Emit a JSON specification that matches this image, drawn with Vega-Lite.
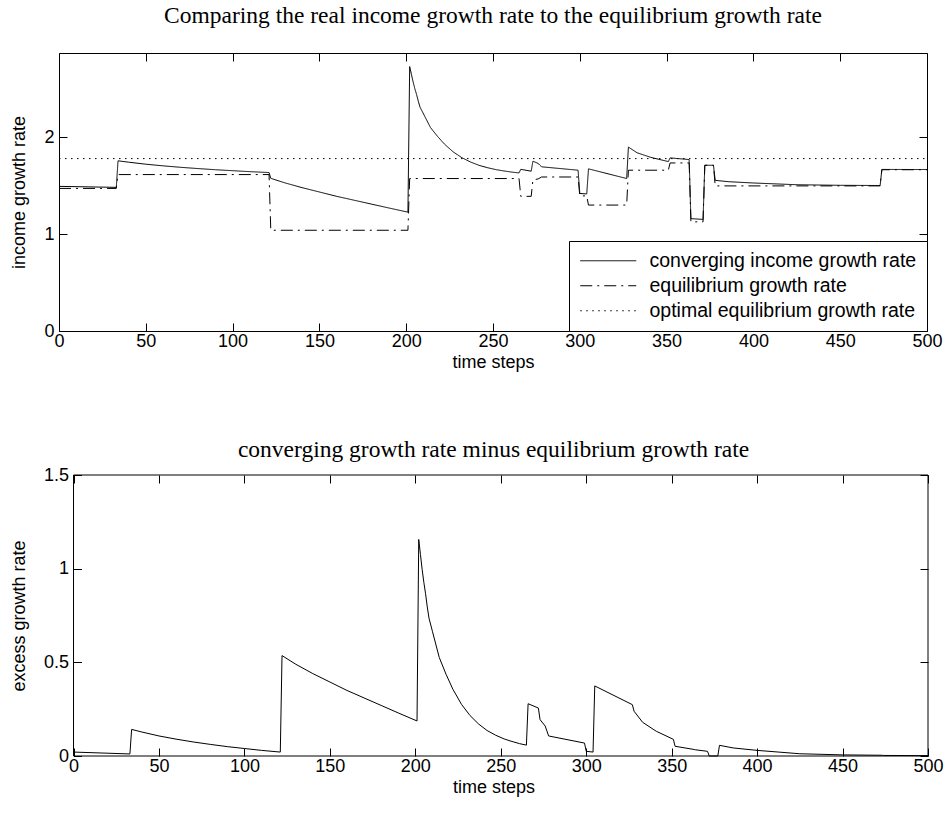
{
  "$schema": "https://vega.github.io/schema/vega-lite/v6.json",
  "padding": {"left": 10, "top": 4, "right": 5, "bottom": 5},
  "spacing": 66,
  "columns": 1,
  "align": "none",
  "config": {
    "view": {"stroke": null},
    "font": "Liberation Sans",
    "axis": {
      "labelFont": "Liberation Sans", "labelFontSize": 18, "labelColor": "black",
      "titleFont": "Liberation Sans", "titleFontSize": 18, "titleFontWeight": "normal", "titleColor": "black",
      "domain": true, "domainColor": "black", "domainWidth": 1, "grid": false, "tickColor": "black", "tickSize": -8, "tickWidth": 1
    },
    "axisX": {"labelPadding": 9, "titlePadding": 3, "labelFlush": false},
    "axisY": {"labelPadding": 13, "titlePadding": 15},
    "title": {"font": "Liberation Serif", "fontSize": 23.5, "fontWeight": "normal", "color": "black", "anchor": "middle", "frame": "group"},
    "legend": {
      "orient": "bottom-right", "offset": 0, "padding": 10, "strokeColor": "black", "fillColor": "white",
      "labelFont": "Liberation Sans", "labelFontSize": 19.5, "labelColor": "black", "labelLimit": 0,
      "symbolType": "M-1,0H5.59", "symbolSize": 289, "symbolStrokeColor": "black", "symbolStrokeWidth": 1,
      "labelOffset": 51, "rowPadding": 4, "cornerRadius": 0
    }
  },
  "resolve": {"legend": {"strokeDash": "independent"}},
  "datasets": {
    "top": [
      {"t": 0, "v": 1.493, "series": "converging income growth rate"},
      {"t": 33, "v": 1.483, "series": "converging income growth rate"},
      {"t": 34, "v": 1.757, "series": "converging income growth rate"},
      {"t": 40, "v": 1.743, "series": "converging income growth rate"},
      {"t": 50, "v": 1.722, "series": "converging income growth rate"},
      {"t": 60, "v": 1.705, "series": "converging income growth rate"},
      {"t": 70, "v": 1.69, "series": "converging income growth rate"},
      {"t": 80, "v": 1.677, "series": "converging income growth rate"},
      {"t": 90, "v": 1.665, "series": "converging income growth rate"},
      {"t": 100, "v": 1.655, "series": "converging income growth rate"},
      {"t": 110, "v": 1.645, "series": "converging income growth rate"},
      {"t": 121, "v": 1.636, "series": "converging income growth rate"},
      {"t": 122, "v": 1.576, "series": "converging income growth rate"},
      {"t": 130, "v": 1.53, "series": "converging income growth rate"},
      {"t": 140, "v": 1.48, "series": "converging income growth rate"},
      {"t": 150, "v": 1.435, "series": "converging income growth rate"},
      {"t": 160, "v": 1.39, "series": "converging income growth rate"},
      {"t": 170, "v": 1.35, "series": "converging income growth rate"},
      {"t": 180, "v": 1.31, "series": "converging income growth rate"},
      {"t": 190, "v": 1.27, "series": "converging income growth rate"},
      {"t": 201, "v": 1.227, "series": "converging income growth rate"},
      {"t": 202, "v": 2.73, "series": "converging income growth rate"},
      {"t": 203, "v": 2.65, "series": "converging income growth rate"},
      {"t": 204, "v": 2.57, "series": "converging income growth rate"},
      {"t": 205, "v": 2.5, "series": "converging income growth rate"},
      {"t": 206, "v": 2.44, "series": "converging income growth rate"},
      {"t": 207, "v": 2.37, "series": "converging income growth rate"},
      {"t": 208, "v": 2.31, "series": "converging income growth rate"},
      {"t": 210, "v": 2.24, "series": "converging income growth rate"},
      {"t": 214, "v": 2.1, "series": "converging income growth rate"},
      {"t": 218, "v": 2.01, "series": "converging income growth rate"},
      {"t": 222, "v": 1.93, "series": "converging income growth rate"},
      {"t": 227, "v": 1.85, "series": "converging income growth rate"},
      {"t": 232, "v": 1.79, "series": "converging income growth rate"},
      {"t": 237, "v": 1.745, "series": "converging income growth rate"},
      {"t": 242, "v": 1.71, "series": "converging income growth rate"},
      {"t": 247, "v": 1.685, "series": "converging income growth rate"},
      {"t": 252, "v": 1.665, "series": "converging income growth rate"},
      {"t": 256, "v": 1.653, "series": "converging income growth rate"},
      {"t": 261, "v": 1.64, "series": "converging income growth rate"},
      {"t": 265, "v": 1.632, "series": "converging income growth rate"},
      {"t": 266, "v": 1.669, "series": "converging income growth rate"},
      {"t": 272, "v": 1.65, "series": "converging income growth rate"},
      {"t": 273, "v": 1.753, "series": "converging income growth rate"},
      {"t": 276, "v": 1.73, "series": "converging income growth rate"},
      {"t": 278, "v": 1.695, "series": "converging income growth rate"},
      {"t": 299, "v": 1.66, "series": "converging income growth rate"},
      {"t": 300, "v": 1.42, "series": "converging income growth rate"},
      {"t": 304, "v": 1.415, "series": "converging income growth rate"},
      {"t": 305, "v": 1.674, "series": "converging income growth rate"},
      {"t": 327, "v": 1.574, "series": "converging income growth rate"},
      {"t": 328, "v": 1.899, "series": "converging income growth rate"},
      {"t": 333, "v": 1.84, "series": "converging income growth rate"},
      {"t": 341, "v": 1.792, "series": "converging income growth rate"},
      {"t": 351, "v": 1.749, "series": "converging income growth rate"},
      {"t": 352, "v": 1.787, "series": "converging income growth rate"},
      {"t": 363, "v": 1.77, "series": "converging income growth rate"},
      {"t": 364, "v": 1.16, "series": "converging income growth rate"},
      {"t": 371, "v": 1.152, "series": "converging income growth rate"},
      {"t": 372, "v": 1.711, "series": "converging income growth rate"},
      {"t": 377, "v": 1.711, "series": "converging income growth rate"},
      {"t": 378, "v": 1.555, "series": "converging income growth rate"},
      {"t": 386, "v": 1.541, "series": "converging income growth rate"},
      {"t": 400, "v": 1.528, "series": "converging income growth rate"},
      {"t": 425, "v": 1.51, "series": "converging income growth rate"},
      {"t": 450, "v": 1.504, "series": "converging income growth rate"},
      {"t": 473, "v": 1.502, "series": "converging income growth rate"},
      {"t": 474, "v": 1.668, "series": "converging income growth rate"},
      {"t": 500, "v": 1.667, "series": "converging income growth rate"},
      {"t": 0, "v": 1.472, "series": "equilibrium growth rate"},
      {"t": 33, "v": 1.472, "series": "equilibrium growth rate"},
      {"t": 34, "v": 1.615, "series": "equilibrium growth rate"},
      {"t": 121, "v": 1.615, "series": "equilibrium growth rate"},
      {"t": 122, "v": 1.04, "series": "equilibrium growth rate"},
      {"t": 201, "v": 1.04, "series": "equilibrium growth rate"},
      {"t": 202, "v": 1.574, "series": "equilibrium growth rate"},
      {"t": 265, "v": 1.574, "series": "equilibrium growth rate"},
      {"t": 266, "v": 1.39, "series": "equilibrium growth rate"},
      {"t": 272, "v": 1.39, "series": "equilibrium growth rate"},
      {"t": 273, "v": 1.56, "series": "equilibrium growth rate"},
      {"t": 276, "v": 1.57, "series": "equilibrium growth rate"},
      {"t": 278, "v": 1.59, "series": "equilibrium growth rate"},
      {"t": 299, "v": 1.59, "series": "equilibrium growth rate"},
      {"t": 300, "v": 1.395, "series": "equilibrium growth rate"},
      {"t": 304, "v": 1.395, "series": "equilibrium growth rate"},
      {"t": 305, "v": 1.3, "series": "equilibrium growth rate"},
      {"t": 327, "v": 1.3, "series": "equilibrium growth rate"},
      {"t": 328, "v": 1.66, "series": "equilibrium growth rate"},
      {"t": 351, "v": 1.66, "series": "equilibrium growth rate"},
      {"t": 352, "v": 1.735, "series": "equilibrium growth rate"},
      {"t": 363, "v": 1.735, "series": "equilibrium growth rate"},
      {"t": 364, "v": 1.127, "series": "equilibrium growth rate"},
      {"t": 371, "v": 1.127, "series": "equilibrium growth rate"},
      {"t": 372, "v": 1.711, "series": "equilibrium growth rate"},
      {"t": 377, "v": 1.711, "series": "equilibrium growth rate"},
      {"t": 378, "v": 1.498, "series": "equilibrium growth rate"},
      {"t": 473, "v": 1.498, "series": "equilibrium growth rate"},
      {"t": 474, "v": 1.665, "series": "equilibrium growth rate"},
      {"t": 500, "v": 1.665, "series": "equilibrium growth rate"},
      {"t": 0, "v": 1.78, "series": "optimal equilibrium growth rate"},
      {"t": 500, "v": 1.78, "series": "optimal equilibrium growth rate"}
    ],
    "bottom": [
      {"t": 0, "v": 0.021}, {"t": 33, "v": 0.011}, {"t": 34, "v": 0.142}, {"t": 40, "v": 0.128},
      {"t": 50, "v": 0.107}, {"t": 60, "v": 0.09}, {"t": 70, "v": 0.075}, {"t": 80, "v": 0.062},
      {"t": 90, "v": 0.05}, {"t": 100, "v": 0.04}, {"t": 110, "v": 0.03}, {"t": 121, "v": 0.021},
      {"t": 122, "v": 0.536}, {"t": 130, "v": 0.49}, {"t": 140, "v": 0.44}, {"t": 150, "v": 0.395},
      {"t": 160, "v": 0.35}, {"t": 170, "v": 0.31}, {"t": 180, "v": 0.27}, {"t": 190, "v": 0.23},
      {"t": 201, "v": 0.187}, {"t": 202, "v": 1.156}, {"t": 203, "v": 1.076}, {"t": 204, "v": 0.996},
      {"t": 205, "v": 0.926}, {"t": 206, "v": 0.866}, {"t": 207, "v": 0.796}, {"t": 208, "v": 0.736},
      {"t": 210, "v": 0.666}, {"t": 214, "v": 0.526}, {"t": 218, "v": 0.436}, {"t": 222, "v": 0.356},
      {"t": 227, "v": 0.276}, {"t": 232, "v": 0.216}, {"t": 237, "v": 0.171}, {"t": 242, "v": 0.136},
      {"t": 247, "v": 0.111}, {"t": 252, "v": 0.091}, {"t": 256, "v": 0.079}, {"t": 261, "v": 0.066},
      {"t": 265, "v": 0.058}, {"t": 266, "v": 0.279}, {"t": 272, "v": 0.256}, {"t": 273, "v": 0.194},
      {"t": 276, "v": 0.16}, {"t": 278, "v": 0.107}, {"t": 299, "v": 0.069}, {"t": 300, "v": 0.025},
      {"t": 304, "v": 0.021}, {"t": 305, "v": 0.374}, {"t": 327, "v": 0.274}, {"t": 328, "v": 0.239},
      {"t": 333, "v": 0.18}, {"t": 341, "v": 0.132}, {"t": 351, "v": 0.089}, {"t": 352, "v": 0.052},
      {"t": 363, "v": 0.035}, {"t": 364, "v": 0.033}, {"t": 371, "v": 0.025}, {"t": 372, "v": 0.0},
      {"t": 377, "v": 0.0}, {"t": 378, "v": 0.057}, {"t": 386, "v": 0.043}, {"t": 400, "v": 0.03},
      {"t": 425, "v": 0.012}, {"t": 450, "v": 0.006}, {"t": 473, "v": 0.004}, {"t": 474, "v": 0.003},
      {"t": 500, "v": 0.002}
    ]
  },
  "concat": [
    {
      "title": {"text": "Comparing the real income growth rate to the equilibrium growth rate", "offset": 25},
      "width": 868,
      "height": 278,
      "data": {"name": "top"},
      "layer": [
        {
          "mark": {"type": "line", "strokeWidth": 1, "color": "black"},
          "encoding": {
            "x": {"field": "t", "type": "quantitative", "scale": {"domain": [0, 500], "nice": false},
                  "axis": {"orient": "bottom", "values": [0, 50, 100, 150, 200, 250, 300, 350, 400, 450, 500], "title": "time steps"}},
            "y": {"field": "v", "type": "quantitative", "scale": {"domain": [0, 2.87], "nice": false, "zero": false},
                  "axis": {"orient": "left", "values": [0, 1, 2], "title": "income growth rate"}},
            "strokeDash": {"field": "series", "type": "nominal",
              "scale": {"domain": ["converging income growth rate", "equilibrium growth rate", "optimal equilibrium growth rate"],
                        "range": [[1, 0], [12, 5, 2, 5], [1.5, 4.5]]},
              "legend": {"title": null, "orient": "bottom-right"}}
          }
        },
        {
          "mark": {"type": "line", "strokeOpacity": 0},
          "encoding": {
            "x": {"field": "t", "type": "quantitative", "scale": {"domain": [0, 500], "nice": false},
                  "axis": {"orient": "top", "values": [0, 50, 100, 150, 200, 250, 300, 350, 400, 450, 500], "labels": false, "title": null}},
            "y": {"field": "v", "type": "quantitative", "scale": {"domain": [0, 2.87], "nice": false, "zero": false},
                  "axis": {"orient": "right", "values": [0, 1, 2], "labels": false, "title": null}},
            "detail": {"field": "series"}
          }
        }
      ],
      "resolve": {"axis": {"x": "independent", "y": "independent"}}
    },
    {
      "title": {"text": "converging growth rate minus equilibrium growth rate", "offset": 5},
      "width": 869,
      "height": 281,
      "layer": [
        {
          "data": {"name": "bottom"},
          "mark": {"type": "line", "strokeWidth": 1, "color": "black"},
          "encoding": {
            "x": {"field": "t", "type": "quantitative", "scale": {"domain": [-8.5, 500], "nice": false, "zero": false},
                  "axis": {"orient": "bottom", "domain": false, "values": [0, 50, 100, 150, 200, 250, 300, 350, 400, 450, 500], "title": "time steps"}},
            "y": {"field": "v", "type": "quantitative", "scale": {"domain": [0, 1.5], "nice": false},
                  "axis": {"orient": "left", "domain": false, "offset": -14.5, "values": [0, 0.5, 1, 1.5], "format": "~g", "title": "excess growth rate"}}
          }
        },
        {
          "data": {"name": "bottom"},
          "mark": {"type": "line", "strokeOpacity": 0},
          "encoding": {
            "x": {"field": "t", "type": "quantitative", "scale": {"domain": [-8.5, 500], "nice": false, "zero": false},
                  "axis": {"orient": "top", "domain": false, "values": [0, 50, 100, 150, 200, 250, 300, 350, 400, 450, 500], "labels": false, "title": null}},
            "y": {"field": "v", "type": "quantitative", "scale": {"domain": [0, 1.5], "nice": false},
                  "axis": {"orient": "right", "domain": false, "values": [0, 0.5, 1, 1.5], "labels": false, "title": null}}
          }
        },
        {
          "data": {"values": [{}]},
          "mark": {"type": "rect", "fill": null, "fillOpacity": 0, "stroke": "black", "strokeWidth": 1},
          "encoding": {
            "x": {"datum": 0, "type": "quantitative", "axis": null},
            "x2": {"datum": 500},
            "y": {"datum": 0, "type": "quantitative", "axis": null},
            "y2": {"datum": 1.5}
          }
        }
      ],
      "resolve": {"axis": {"x": "independent", "y": "independent"}}
    }
  ]
}
